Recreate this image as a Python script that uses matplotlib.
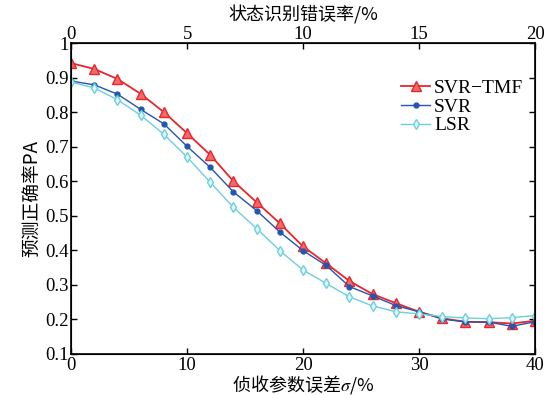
import matplotlib.pyplot as plt
import numpy as np

# 侦收参数误差 sigma (%)
sigma = [0, 2, 4, 6, 8, 10, 12, 14, 16, 18, 20, 22, 24, 26, 28, 30, 32, 34, 36, 38, 40]

svr_tmf = [0.942, 0.925, 0.896, 0.853, 0.800, 0.739, 0.676, 0.600, 0.539, 0.478, 0.411,
           0.362, 0.311, 0.273, 0.247, 0.222, 0.203, 0.193, 0.192, 0.188, 0.196]
svr = [0.890, 0.879, 0.852, 0.808, 0.766, 0.701, 0.640, 0.569, 0.515, 0.453, 0.399,
       0.356, 0.295, 0.268, 0.240, 0.222, 0.201, 0.193, 0.192, 0.180, 0.193]
lsr = [0.887, 0.870, 0.836, 0.791, 0.736, 0.670, 0.597, 0.524, 0.463, 0.399, 0.343,
       0.304, 0.265, 0.239, 0.222, 0.216, 0.208, 0.204, 0.202, 0.205, 0.211]

xticks = [0, 10, 20, 30, 40]
top_ticks = [0, 5, 10, 15, 20]
yticks = [0.1, 0.2, 0.3, 0.4, 0.5, 0.6, 0.7, 0.8, 0.9, 1]

num_font = 'Liberation Serif'
cjk = ['Noto Sans CJK SC', 'Liberation Serif']
plt.rcParams['mathtext.fontset'] = 'stix'

fig = plt.figure(figsize=(5.51, 3.95), dpi=100)
ax = fig.add_axes([0.129, 0.104, 0.842, 0.787])

red = '#e8262c'
blue = '#2356b0'
cyan = '#6cd0dc'

ax.plot(sigma, svr_tmf, color=red, lw=1.3, marker='^', ms=6.5, mfc='#f06a6a', mec=red, label='SVR\u2212TMF')
ax.plot(sigma, svr, color=blue, lw=1.0, marker='o', ms=3.5, mfc=blue, mec=blue, label='SVR')
ax.plot(sigma, lsr, color=cyan, lw=1.0, marker='d', ms=5, mfc='#e0f6f8', mec=cyan, label='LSR')

ax.set_xlim(0, 40)
ax.set_ylim(0.1, 1.0)
ax.set_xticks(xticks)
ax.set_xticklabels([str(v) for v in xticks], family=num_font, fontsize=13.5)
ax.set_yticks(yticks)
ax.set_yticklabels(['0.1', '0.2', '0.3', '0.4', '0.5', '0.6', '0.7', '0.8', '0.9', '1'],
                   family=num_font, fontsize=13.5)
ax.tick_params(direction='in', length=4, width=1, right=True, pad=2)
for s in ax.spines.values():
    s.set_linewidth(1.2)

ax.set_xlabel('侦收参数误差$\\sigma$/%', family=cjk, fontsize=13, labelpad=-0.5)
ax.set_ylabel('预测正确率PA', family=cjk, fontsize=13.5, labelpad=2)

ax2 = ax.twiny()
ax2.set_xlim(0, 20)
ax2.set_xticks(top_ticks)
ax2.set_xticklabels([str(v) for v in top_ticks], family=num_font, fontsize=13.5)
ax2.tick_params(direction='in', length=4, width=1, pad=0)
ax2.set_xlabel('状态识别错误率/%', family=cjk, fontsize=13, labelpad=4)

leg = ax.legend(loc='upper right', bbox_to_anchor=(1.0, 0.92), frameon=False,
                prop={'family': num_font, 'size': 14}, handlelength=1.5,
                handletextpad=0.2, labelspacing=0.05, borderaxespad=0.2)

fig.savefig('out.png', dpi=100)
